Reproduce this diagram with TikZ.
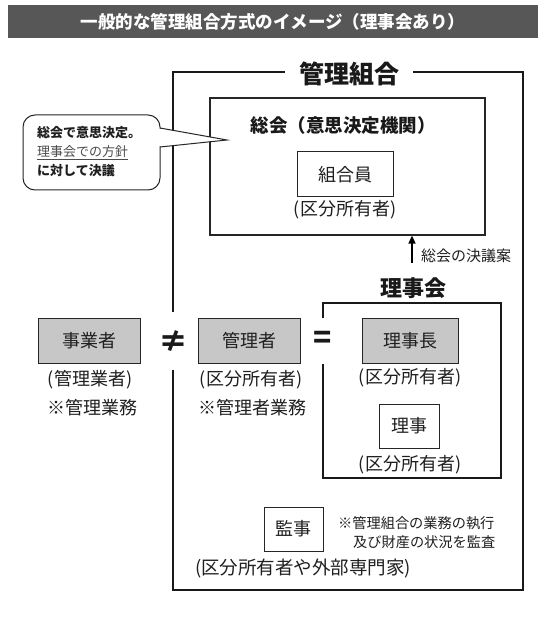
\documentclass[tikz,border=0pt]{standalone}
\usepackage{fontspec}
\setmainfont{Noto Sans CJK JP}
\usetikzlibrary{arrows.meta}
\begin{document}
\begin{tikzpicture}[x=1pt,y=-1pt,
  box/.style={draw=black!85, line width=1pt, inner sep=0pt, text=black!88, font=\fontsize{18}{18}\selectfont},
  gbox/.style={box, fill=black!22},
  lbl/.style={inner sep=0pt, text=black!88, font=\fontsize{18}{18}\selectfont},
  note/.style={inner sep=0pt, anchor=west, text=black!88, font=\fontsize{14.2}{14.2}\selectfont},
  heavy/.style={line width=2.5pt, draw=black!90},
  sym/.style={inner sep=0pt, text=black!90, font=\bfseries\fontsize{30}{30}\selectfont}]
\useasboundingbox (0,0) rectangle (548,620);
\fill[white] (0,0) rectangle (548,620);
% title bar
\node[fill=black!66, minimum width=530pt, minimum height=33pt, inner sep=0pt, text=white,
      font=\bfseries\fontsize{17.5}{17.5}\selectfont] (title) at (273,22) {一般的な管理組合方式のイメージ（理事会あり）};
% outer frame
\draw[heavy] (285,72) -- (173,72) -- (173,312);
\draw[heavy] (173,370) -- (173,590) -- (523,590) -- (523,72) -- (413,72);
\node[inner sep=0pt, text=black!90, font=\bfseries\fontsize{25}{25}\selectfont] (kumiai) at (349,74) {管理組合};
% general meeting
\node[draw=black!85, line width=1.2pt, minimum width=275pt, minimum height=137pt, inner sep=0pt] (sokai) at (347.5,166.5) {};
\node[inner sep=0pt, text=black!90, font=\bfseries\fontsize{18.5}{18.5}\selectfont] (sokaititle) at (343,125) {総会（意思決定機関）};
\node[box, minimum width=96pt, minimum height=45pt] (kumiaiin) at (345,174.5) {組合員};
\node[lbl] (kumiaiinsub) at (345,210) {(区分所有者)};
% arrow
\coordinate (arrstart) at (412,263);
\draw[line width=1.5pt, -{Triangle[length=8pt,width=7pt]}] (arrstart) -- (arrstart |- sokai.south);
\node[lbl, font=\fontsize{15}{15}\selectfont] (ketsugian) at (466,256) {総会の決議案};
% callout
\draw[line width=1pt, draw=black!85, rounded corners=12pt] (23,115) rectangle (160,190);
\fill[white] (159,128.5) -- (227,140) -- (159,146.5) -- cycle;
\coordinate (ptip) at (227,140);
\draw[line width=1pt, draw=black!85] (160,128) -- (ptip) -- (160,147);
\node[note, font=\bfseries\fontsize{13}{13}\selectfont] (c1) at (37,133) {総会で意思決定。};
\node[note, text=black!70, font=\fontsize{13}{13}\selectfont] (c2) at (37,153) {\underline{理事会での方針}};
\node[note, font=\bfseries\fontsize{13}{13}\selectfont] (c3) at (37,171) {に対して決議};
% row of managers
\node[gbox, minimum width=102pt, minimum height=45pt] (jigyosha) at (89,340.5) {事業者};
\node[lbl] (jigyoshasub) at (90,380) {(管理業者)};
\node[lbl] (jigyoshanote) at (92,408) {※管理業務};
\node[sym] (neq) at (173,342) {≠};
\node[gbox, minimum width=102pt, minimum height=45pt] (kanrisha) at (249,340.5) {管理者};
\node[lbl] (kanrishasub) at (251,380) {(区分所有者)};
\node[lbl] (kanrishanote) at (252,408) {※管理者業務};
\node[sym] (eq) at (323,340) {=};
% board
\draw[line width=1.8pt, draw=black!90] (323,318) -- (323,303) -- (501,303) -- (501,478) -- (323,478) -- (323,364);
\node[inner sep=0pt, text=black!90, font=\bfseries\fontsize{22}{22}\selectfont] (rijikai) at (413,288) {理事会};
\node[gbox, minimum width=96pt, minimum height=45pt] (rijicho) at (410,340.5) {理事長};
\node[lbl] (rijichosub) at (410,378) {(区分所有者)};
\node[box, minimum width=60pt, minimum height=44pt] (riji) at (409,426) {理事};
\node[lbl] (rijisub) at (410,465) {(区分所有者)};
% auditor
\node[box, minimum width=59pt, minimum height=44pt] (kanji) at (293.5,529) {監事};
\node[note] (kanjinote1) at (338,523) {※管理組合の業務の執行};
\node[note] (kanjinote2) at (353,542) {及び財産の状況を監査};
\node[lbl, font=\fontsize{18.5}{18.5}\selectfont] (kanjisub) at (303,569) {(区分所有者や外部専門家)};
\end{tikzpicture}
\end{document}
